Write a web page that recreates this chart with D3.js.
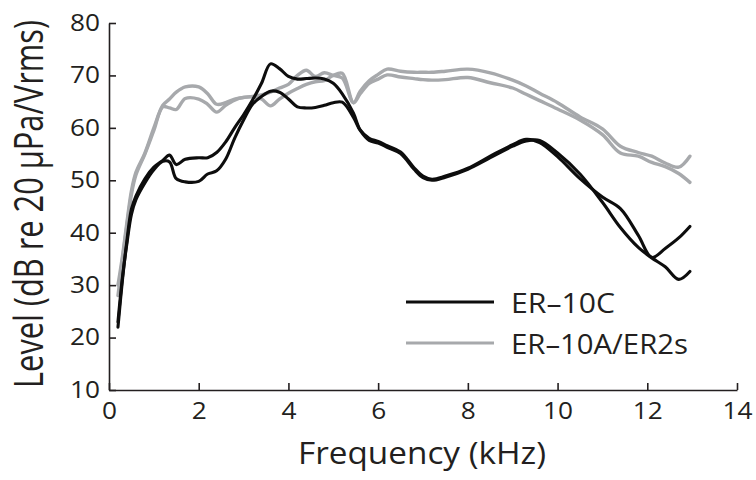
<!DOCTYPE html>
<html>
<head>
<meta charset="utf-8">
<script src="https://cdn.jsdelivr.net/npm/d3@7"></script>
<style>
  body { margin: 0; background: #fff; }
  text { font-family: "Open Sans", sans-serif; fill: #231f20; }
</style>
</head>
<body>
<div id="chart"></div>
<script>
// frequency grid (kHz)
var freqKHz = [0.2, 0.3, 0.4, 0.5, 0.6, 0.8, 1.0, 1.2, 1.35, 1.5, 1.7, 2.0, 2.2, 2.4, 2.6, 2.8,
  3.0, 3.2, 3.4, 3.6, 3.8, 4.0, 4.2, 4.4, 4.6, 4.8, 5.0, 5.2, 5.45, 5.6, 5.8, 6.0, 6.2, 6.5,
  6.8, 7.0, 7.2, 7.5, 8.0, 8.5, 9.0, 9.3, 9.6, 10.0, 10.5, 11.0, 11.4, 11.8, 12.1, 12.4, 12.7, 12.95];

// ER-10C, two traces
var er10cA = [22, 31, 38.5, 44.5, 47, 50.3, 52.5, 53.8, 54.8, 53, 54, 54.3, 54.3, 55.3, 57.3, 60,
  62.5, 65.3, 68.5, 72.2, 71.3, 69.8, 69.3, 69.4, 69.5, 69.3, 68.5, 66.5, 62.8, 59.6, 58, 57.4, 56.6, 55.4,
  52.4, 50.8, 50.2, 50.8, 52.3, 54.6, 56.8, 57.8, 57.2, 54.5, 50.3, 46.8, 44.6, 39.5, 35.3, 37, 39, 41.2];
var er10cB = [23, 31.5, 38, 43.5, 46.3, 49.5, 52, 53.6, 53.5, 50.3, 49.7, 49.8, 51.2, 51.8, 54, 58,
  61.5, 64.5, 66, 67, 66.8, 65.5, 64, 63.8, 63.9, 64.3, 64.8, 64.9, 62, 59.5, 57.6, 57.1, 56.3, 55.1,
  52.1, 50.5, 50, 50.6, 52.1, 54.3, 56.5, 57.5, 57.6, 55.2, 51.2, 45.8, 41, 37.2, 35.2, 33.5, 31.1, 32.6];

// ER-10A/ER2s, two traces
var er10aA = [30, 35.5, 42, 48, 51.5, 55.2, 60, 64.3, 65.5, 66.8, 67.8, 67.8, 66.5, 64.5, 64.8, 65.5,
  65.8, 66, 66.3, 66.8, 67.6, 68.3, 70, 71, 69.8, 70.5, 70, 69.5, 64.8, 67, 69, 70.2, 71.2, 70.8,
  70.6, 70.6, 70.6, 70.8, 71.2, 70.5, 69.1, 68, 66.6, 64.8, 62.1, 59.8, 56.5, 55.3, 54.6, 53.3, 52.5, 54.6];
var er10aB = [28, 35, 41.5, 47.3, 51, 55, 59.5, 64, 63.8, 63.5, 65.6, 65.5, 64.5, 63, 64.3, 65.3,
  65.8, 65.9, 65.5, 64.2, 65.5, 66.6, 67.5, 68.3, 68.8, 69, 70, 70.4, 64.8, 66.5, 68.5, 69.3, 70.1, 69.7,
  69.4, 69.2, 69.1, 69.2, 69.6, 68.6, 67.6, 66.4, 65.2, 63.6, 61.5, 58.7, 55.2, 54.6, 53.4, 52.6, 51.3, 49.6];

var xTicks = [0, 2, 4, 6, 8, 10, 12, 14];
var yTicks = [10, 20, 30, 40, 50, 60, 70, 80];
var legendNames = ["ER\u201310C", "ER\u201310A/ER2s"];

var width = 756, height = 480;
var black = "#0d0d0d", grey = "#a7a9ac", ink = "#231f20";

var svg = d3.select("#chart").append("svg")
  .attr("width", width)
  .attr("height", height);

var x = d3.scaleLinear().domain([0, 14]).range([109, 737]);
var y = d3.scaleLinear().domain([10, 80]).range([390, 23]);

// axes, ticks point inward
var xAxis = svg.append("g")
  .attr("transform", "translate(0,390)")
  .call(d3.axisBottom(x).tickValues(xTicks).tickSizeInner(-7).tickSizeOuter(0).tickPadding(13));
var yAxis = svg.append("g")
  .attr("transform", "translate(109,0)")
  .call(d3.axisLeft(y).tickValues(yTicks).tickSizeInner(-7).tickSizeOuter(0).tickPadding(9));

[xAxis, yAxis].forEach(function(g) {
  g.select(".domain").attr("stroke", ink).attr("stroke-width", 1.6);
  g.selectAll(".tick line").attr("stroke", ink).attr("stroke-width", 1.6);
  g.selectAll(".tick text")
    .style("font-family", "'Open Sans', sans-serif")
    .style("font-size", "23px")
    .attr("fill", ink)
    .attr("textLength", function(d) { return String(d).length * 15; })
    .attr("lengthAdjust", "spacingAndGlyphs");
});

var line = d3.line()
  .x(function(d) { return x(d[0]); })
  .y(function(d) { return y(d[1]); })
  .curve(d3.curveCatmullRom);

function pairs(vals) {
  return freqKHz.map(function(f, i) { return [f, vals[i]]; });
}

var traces = [
  { vals: er10aA, color: grey, w: 3.4 },
  { vals: er10aB, color: grey, w: 3.4 },
  { vals: er10cA, color: black, w: 3.1 },
  { vals: er10cB, color: black, w: 3.1 }
];

svg.selectAll(".trace")
  .data(traces)
  .enter().append("path")
  .attr("class", "trace")
  .attr("fill", "none")
  .attr("stroke", function(d) { return d.color; })
  .attr("stroke-width", function(d) { return d.w; })
  .attr("stroke-linejoin", "round")
  .attr("stroke-linecap", "round")
  .attr("d", function(d) { return line(pairs(d.vals)); });

// legend
var legend = svg.append("g").attr("transform", "translate(406,302)");
legendNames.forEach(function(name, i) {
  var row = legend.append("g").attr("transform", "translate(0," + (i * 41) + ")");
  row.append("line")
    .attr("x1", 0).attr("x2", 88)
    .attr("stroke", i === 0 ? black : grey)
    .attr("stroke-width", 3);
  row.append("text")
    .attr("x", 105).attr("y", 11)
    .style("font-size", "27px")
    .attr("textLength", i === 0 ? 104 : 177)
    .attr("lengthAdjust", "spacingAndGlyphs")
    .text(name);
});

// axis titles
svg.append("text")
  .attr("x", 422).attr("y", 464)
  .attr("text-anchor", "middle")
  .style("font-size", "31px")
  .attr("textLength", 248)
  .attr("lengthAdjust", "spacingAndGlyphs")
  .text("Frequency (kHz)");

svg.append("text")
  .attr("transform", "translate(43,204) scale(1.27,1) rotate(-90)")
  .attr("text-anchor", "middle")
  .style("font-size", "31px")
  .attr("textLength", 368)
  .attr("lengthAdjust", "spacingAndGlyphs")
  .text("Level (dB re 20 \u00b5Pa/Vrms)");
</script>
</body>
</html>
